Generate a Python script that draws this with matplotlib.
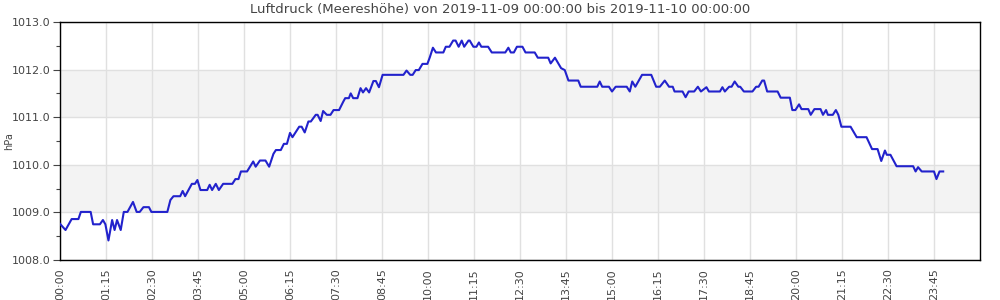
import matplotlib
matplotlib.use("Agg")
import matplotlib.pyplot as plt
from matplotlib.ticker import MultipleLocator

# minutes since 2019-11-09 00:00
minutes = [0, 9, 19, 30, 34, 50, 54, 65, 70, 74, 79, 85, 89, 93, 99, 104, 110, 119, 125, 130,
           136, 145, 149, 175, 180, 185, 196, 200, 204, 215, 220, 224, 229, 240, 244, 248, 254,
           259, 266, 281, 286, 291, 295, 305, 315, 319, 326, 335, 341, 348, 352, 360, 365, 370,
           375, 379, 390, 394, 399, 405, 409, 417, 420, 425, 429, 435, 441, 446, 455, 462, 465,
           471, 474, 478, 485, 490, 494, 499, 504, 511, 515, 520, 526, 560, 565, 571, 575, 580,
           585, 591, 599, 603, 608, 613, 625, 629, 635, 641, 645, 650, 655, 659, 666, 668, 674,
           679, 683, 687, 698, 704, 726, 731, 735, 740, 745, 754, 759, 774, 779, 796, 800, 807,
           817, 823, 829, 845, 849, 876, 880, 884, 895, 900, 906, 924, 929, 933, 938, 949, 964,
           972, 978, 986, 993, 999, 1002, 1015, 1020, 1025, 1034, 1040, 1045, 1054, 1058, 1076,
           1080, 1084, 1091, 1095, 1100, 1106, 1109, 1115, 1129, 1135, 1139, 1145, 1148, 1153,
           1170, 1175, 1190, 1194, 1199, 1205, 1209, 1220, 1224, 1230, 1240, 1244, 1249, 1252,
           1260, 1265, 1269, 1274, 1289, 1299, 1315, 1324, 1333, 1339, 1345, 1348, 1354, 1364,
           1391, 1395, 1399, 1405, 1425, 1429, 1434, 1440]
pressure = [1008.76, 1008.63, 1008.86, 1008.86, 1009.01, 1009.01, 1008.75, 1008.75, 1008.84, 1008.75,
            1008.41, 1008.84, 1008.63, 1008.84, 1008.63, 1009.01, 1009.01, 1009.22, 1009.01, 1009.01,
            1009.11, 1009.11, 1009.01, 1009.01, 1009.26, 1009.34, 1009.34, 1009.45, 1009.34, 1009.60,
            1009.60, 1009.68, 1009.47, 1009.47, 1009.58, 1009.47, 1009.60, 1009.47, 1009.60, 1009.60,
            1009.70, 1009.70, 1009.86, 1009.86, 1010.07, 1009.96, 1010.09, 1010.09, 1009.96, 1010.23,
            1010.31, 1010.31, 1010.44, 1010.44, 1010.67, 1010.58, 1010.80, 1010.80, 1010.68, 1010.91,
            1010.91, 1011.05, 1011.05, 1010.92, 1011.13, 1011.05, 1011.05, 1011.15, 1011.15, 1011.33,
            1011.40, 1011.40, 1011.50, 1011.40, 1011.40, 1011.61, 1011.52, 1011.61, 1011.52, 1011.76,
            1011.76, 1011.63, 1011.89, 1011.89, 1011.98, 1011.89, 1011.89, 1011.99, 1011.99, 1012.12,
            1012.12, 1012.26, 1012.46, 1012.36, 1012.36, 1012.48, 1012.48, 1012.61, 1012.61, 1012.48,
            1012.61, 1012.48, 1012.61, 1012.61, 1012.48, 1012.48, 1012.57, 1012.48, 1012.48, 1012.36,
            1012.36, 1012.46, 1012.36, 1012.36, 1012.48, 1012.48, 1012.36, 1012.36, 1012.25, 1012.25,
            1012.13, 1012.25, 1012.03, 1011.99, 1011.77, 1011.77, 1011.64, 1011.64, 1011.75, 1011.64,
            1011.64, 1011.54, 1011.64, 1011.64, 1011.54, 1011.75, 1011.64, 1011.89, 1011.89, 1011.64,
            1011.64, 1011.77, 1011.64, 1011.64, 1011.54, 1011.54, 1011.42, 1011.54, 1011.54, 1011.64,
            1011.54, 1011.63, 1011.54, 1011.54, 1011.63, 1011.54, 1011.64, 1011.64, 1011.75, 1011.64,
            1011.64, 1011.54, 1011.54, 1011.64, 1011.64, 1011.77, 1011.77, 1011.54, 1011.54, 1011.41,
            1011.41, 1011.15, 1011.15, 1011.27, 1011.17, 1011.17, 1011.05, 1011.17, 1011.17, 1011.05,
            1011.15, 1011.05, 1011.05, 1011.15, 1011.05, 1010.80, 1010.80, 1010.58, 1010.58, 1010.33,
            1010.33, 1010.08, 1010.30, 1010.21, 1010.21, 1009.97, 1009.97, 1009.86, 1009.95, 1009.86,
            1009.86, 1009.70, 1009.86, 1009.86]

tick_minutes = list(range(0, 1500, 75))
tick_labels = ["00:00", "01:15", "02:30", "03:45", "05:00", "06:15", "07:30", "08:45", "10:00",
               "11:15", "12:30", "13:45", "15:00", "16:15", "17:30", "18:45", "20:00", "21:15",
               "22:30", "23:45"]
band_ranges = [(1009.0, 1010.0), (1011.0, 1012.0)]

title = "Luftdruck (Meereshöhe) von 2019-11-09 00:00:00 bis 2019-11-10 00:00:00"
text_color = "#444444"

fig = plt.figure(figsize=(10, 3), dpi=100)
ax = fig.add_axes([0.06, 1 - 260 / 300, 0.92, (260 - 22) / 300])

for lo, hi in band_ranges:
    ax.axhspan(lo, hi, color="#f3f3f3", zorder=0, lw=0)

ax.plot(minutes, pressure, color="#2222cc", lw=1.5, zorder=3)

ax.set_xlim(0, 1500)
ax.set_ylim(1008.0, 1013.0)
ax.set_xticks(tick_minutes)
ax.set_xticklabels(tick_labels, rotation=90, fontsize=8, color=text_color)
ax.yaxis.set_major_locator(MultipleLocator(1.0))
ax.yaxis.set_minor_locator(MultipleLocator(0.5))
ax.set_yticks([1008, 1009, 1010, 1011, 1012, 1013])
ax.set_yticklabels([f"{v:.1f}" for v in [1008, 1009, 1010, 1011, 1012, 1013]], fontsize=8, color=text_color)
ax.tick_params(axis="x", length=0, pad=6)
ax.tick_params(axis="y", which="major", length=5, width=0.8, color="#444444", pad=2)
ax.tick_params(axis="y", which="minor", length=3, width=0.8, color="#444444")
ax.grid(True, which="major", color="#e0e0e0", lw=1.0, zorder=1)
ax.set_axisbelow(True)
for s in ax.spines.values():
    s.set_color("black")
    s.set_linewidth(1.0)

ax.set_ylabel("hPa", fontsize=7, color=text_color)
ax.yaxis.set_label_coords(-0.05, 0.5)
fig.text(0.5, 1 - 10 / 300, title, fontsize=9.5, color=text_color, ha="center", va="center")

fig.savefig("out.png", dpi=100)
